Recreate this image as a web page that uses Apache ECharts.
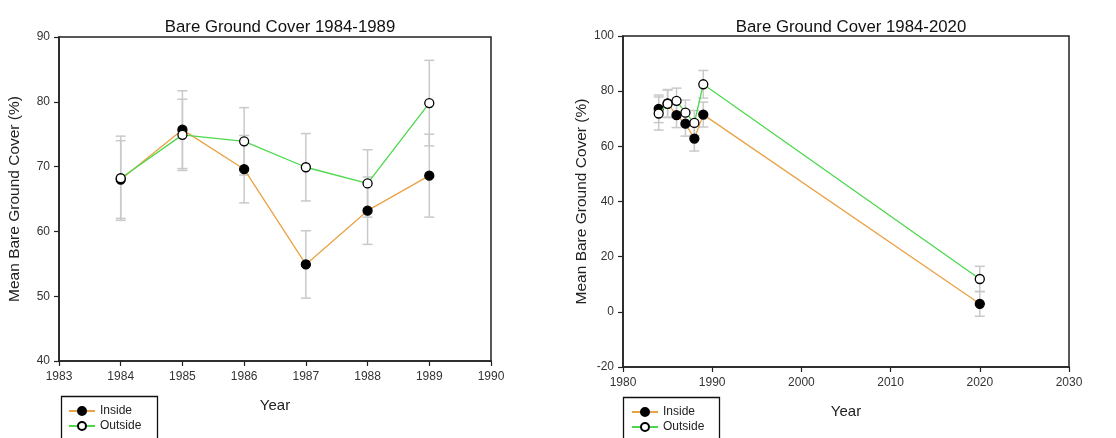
<!DOCTYPE html>
<html>
<head>
<meta charset="utf-8">
<script src="https://cdn.jsdelivr.net/npm/echarts@6/dist/echarts.min.js"></script>
<style>html,body{margin:0;padding:0;background:#fff;}#c{width:1116px;height:438px;}</style>
</head>
<body>
<div id="c"></div>
<script>
// Left chart: 1984-1989
const yearsA = [1984, 1985, 1986, 1987, 1988, 1989];
const insideA = [68.0, 75.7, 69.6, 54.9, 63.2, 68.6];
const insideErrA = [6.0, 6.0, 5.2, 5.2, 5.2, 6.4];
const outsideA = [68.2, 74.9, 73.9, 69.9, 67.4, 79.8];
const outsideErrA = [6.5, 5.5, 5.2, 5.2, 5.2, 6.6];

// Right chart: 1984-2020
const yearsB = [1984, 1985, 1986, 1987, 1988, 1989, 2020];
const insideB = [73.6, 75.6, 71.3, 68.2, 62.8, 71.5, 2.9];
const insideErrB = [5.0, 5.0, 4.5, 4.5, 4.5, 4.5, 4.5];
const outsideB = [71.9, 75.4, 76.5, 72.2, 68.5, 82.5, 11.9];
const outsideErrB = [6.0, 5.0, 4.6, 4.6, 4.5, 5.0, 4.6];

const titles = ['Bare Ground Cover 1984-1989', 'Bare Ground Cover 1984-2020'];
const yName = 'Mean Bare Ground Cover (%)';
const xName = 'Year';
const seriesNames = ['Inside', 'Outside'];

const FONT = 'Liberation Sans, Arial, sans-serif';
const INSIDE_COLOR = '#eaa246';
const OUTSIDE_COLOR = '#4cd84c';
const ERR_COLOR = '#c9c9c9';

function pts(xs, ys) { return xs.map((x, i) => [x, ys[i]]); }
function errs(xs, ys, es) { return xs.map((x, i) => [x, ys[i] - es[i], ys[i] + es[i]]); }

function errSeries(idx, data, name) {
  return {
    type: 'custom', name: name + ' err', xAxisIndex: idx, yAxisIndex: idx, z: 1,
    silent: true, data: data,
    renderItem: function (params, api) {
      const x = api.value(0);
      const lo = api.coord([x, api.value(1)]);
      const hi = api.coord([x, api.value(2)]);
      const hw = 5;
      const st = { stroke: ERR_COLOR, lineWidth: 1.5, fill: null };
      return {
        type: 'group', children: [
          { type: 'line', shape: { x1: lo[0], y1: lo[1], x2: hi[0], y2: hi[1] }, style: st },
          { type: 'line', shape: { x1: lo[0] - hw, y1: lo[1], x2: lo[0] + hw, y2: lo[1] }, style: st },
          { type: 'line', shape: { x1: hi[0] - hw, y1: hi[1], x2: hi[0] + hw, y2: hi[1] }, style: st }
        ]
      };
    }
  };
}

function lineSeries(idx, data, name, color, filled, z) {
  return {
    type: 'line', name: name, xAxisIndex: idx, yAxisIndex: idx, z: z,
    data: data, symbol: 'circle', symbolSize: 9,
    lineStyle: { color: color, width: 1.3 },
    itemStyle: { color: filled ? '#000' : '#fff', borderColor: '#000', borderWidth: 1.3 },
    emphasis: { disabled: true }, animation: false
  };
}

const grids = [
  { left: 59, top: 37, width: 432, height: 324 },
  { left: 623, top: 36, width: 446, height: 331 }
];

function xAxis(idx, min, max, interval) {
  return {
    type: 'value', gridIndex: idx, min: min, max: max, interval: interval,
    name: xName, nameLocation: 'middle', nameGap: 37,
    nameTextStyle: { fontFamily: FONT, fontSize: 15, color: '#222' },
    axisLine: { show: true, onZero: false, lineStyle: { color: '#222', width: 1.5 } },
    axisTick: { show: true, inside: false, length: 5, lineStyle: { color: '#222', width: 1.2 } },
    axisLabel: { fontFamily: FONT, fontSize: 12, color: '#333', margin: 10, formatter: v => String(v) },
    splitLine: { show: false }
  };
}
function yAxis(idx, min, max, interval, gap) {
  return {
    type: 'value', gridIndex: idx, min: min, max: max, interval: interval,
    name: yName, nameLocation: 'middle', nameGap: gap,
    nameTextStyle: { fontFamily: FONT, fontSize: 15.5, color: '#222' },
    axisLine: { show: true, onZero: false, lineStyle: { color: '#222', width: 1.5 } },
    axisTick: { show: true, inside: false, length: 5, lineStyle: { color: '#222', width: 1.2 } },
    axisLabel: { fontFamily: FONT, fontSize: 12, color: '#333', margin: 9, formatter: v => String(v) },
    splitLine: { show: false }
  };
}

function legendItem(name, left, top) {
  return {
    data: [name], orient: 'horizontal', left: left, top: top, padding: 0,
    itemWidth: 26, itemHeight: 10,
    textStyle: { fontFamily: FONT, fontSize: 12, color: '#222' }, selectedMode: false
  };
}

const option = {
  animation: false,
  backgroundColor: '#fff',
  title: [
    { text: titles[0], left: 275, top: 14, textAlign: 'center',
      textStyle: { fontFamily: FONT, fontSize: 16.8, fontWeight: 'normal', color: '#111' } },
    { text: titles[1], left: 846, top: 14, textAlign: 'center',
      textStyle: { fontFamily: FONT, fontSize: 16.8, fontWeight: 'normal', color: '#111' } }
  ],
  grid: grids.map(g => Object.assign({ show: true, borderColor: '#222', borderWidth: 1.5, backgroundColor: 'transparent' }, g)),
  xAxis: [xAxis(0, 1983, 1990, 1), xAxis(1, 1980, 2030, 10)],
  yAxis: [yAxis(0, 40, 90, 10, 36), yAxis(1, -20, 100, 20, 32)],
  legend: [
    legendItem(seriesNames[0], 68, 405),
    legendItem(seriesNames[1], 68, 420),
    legendItem(seriesNames[0], 631, 406),
    legendItem(seriesNames[1], 631, 421)
  ],
  graphic: [
    { type: 'rect', left: 59, top: 394, shape: { width: 96, height: 60 }, style: { fill: 'none', stroke: '#111', lineWidth: 1.3 } },
    { type: 'rect', left: 621, top: 395, shape: { width: 96, height: 60 }, style: { fill: 'none', stroke: '#111', lineWidth: 1.3 } }
  ],
  series: [
    errSeries(0, errs(yearsA, insideA, insideErrA), 'Inside'),
    errSeries(0, errs(yearsA, outsideA, outsideErrA), 'Outside'),
    lineSeries(0, pts(yearsA, insideA), 'Inside', INSIDE_COLOR, true, 3),
    lineSeries(0, pts(yearsA, outsideA), 'Outside', OUTSIDE_COLOR, false, 4),
    errSeries(1, errs(yearsB, insideB, insideErrB), 'Inside'),
    errSeries(1, errs(yearsB, outsideB, outsideErrB), 'Outside'),
    lineSeries(1, pts(yearsB, insideB), 'Inside', INSIDE_COLOR, true, 3),
    lineSeries(1, pts(yearsB, outsideB), 'Outside', OUTSIDE_COLOR, false, 4)
  ]
};

const chart = echarts.init(document.getElementById('c'), null, { renderer: 'canvas' });
chart.setOption(option);
</script>
</body>
</html>
